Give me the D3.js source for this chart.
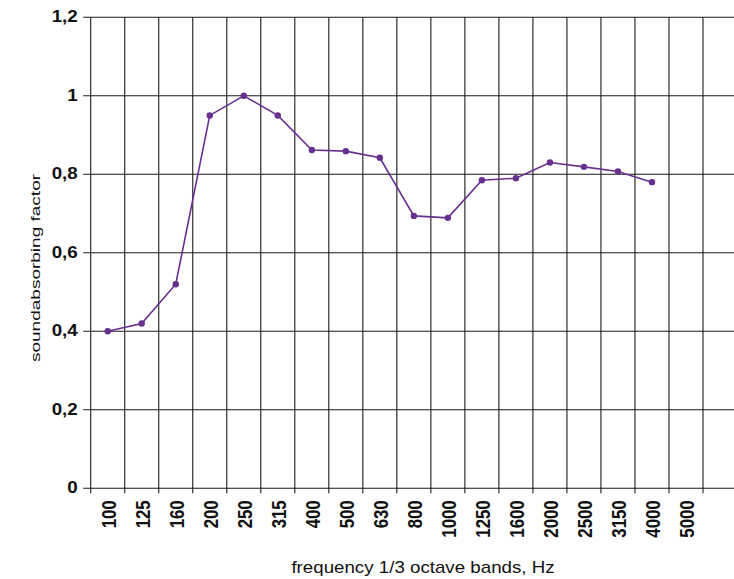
<!DOCTYPE html>
<html>
<head>
<meta charset="utf-8">
<script src="https://cdn.jsdelivr.net/npm/d3@7"></script>
<style>
  html, body { margin: 0; padding: 0; background: #fff; }
  svg { display: block; }
  text { font-family: "Liberation Sans", Arial, Helvetica, sans-serif; fill: #111; }
</style>
</head>
<body>
<svg id="chart" width="734" height="579"></svg>
<script>
// 1/3 octave band centre frequencies (Hz)
const bands = ["100", "125", "160", "200", "250", "315", "400", "500", "630",
               "800", "1000", "1250", "1600", "2000", "2500", "3150", "4000", "5000"];
// Sound absorption coefficient per band (no value measured at 5000 Hz)
const absorption = [0.40, 0.42, 0.52, 0.95, 1.00, 0.95, 0.862, 0.859, 0.842,
                    0.694, 0.689, 0.785, 0.79, 0.83, 0.819, 0.807, 0.78, null];
// Value axis ticks and their labels (decimal comma)
const yTicks = [0, 0.2, 0.4, 0.6, 0.8, 1.0, 1.2];
const yTickLabels = ["0", "0,2", "0,4", "0,6", "0,8", "1", "1,2"];

const xTitle = "frequency 1/3 octave bands, Hz";
const yTitle = "soundabsorbing factor";

const svg = d3.select("#chart");
const W = 734;

const plotLeft = 90.7, plotRight = 703, plotTop = 17.3, plotBottom = 488.3;

const x = d3.scaleBand().domain(bands).range([plotLeft, plotRight]).padding(0);
const y = d3.scaleLinear().domain([0, 1.2]).range([plotBottom, plotTop]);

const grid = svg.append("g");

// horizontal grid lines, running past the last band to the right edge
grid.selectAll("line.h").data(yTicks).join("line")
  .attr("class", "h")
  .attr("x1", plotLeft - 7.5).attr("x2", W)
  .attr("y1", d => y(d)).attr("y2", d => y(d))
  .attr("stroke", "#1b1b1b").attr("stroke-width", 1.1);

// vertical grid lines on every band boundary, extending below the zero line
const edges = bands.map(b => x(b)).concat([x.range()[1]]);
grid.selectAll("line.v").data(edges).join("line")
  .attr("class", "v")
  .attr("x1", d => d).attr("x2", d => d)
  .attr("y1", y(1.2)).attr("y2", y(0) + 5)
  .attr("stroke", "#1b1b1b").attr("stroke-width", 1.1);

// value axis labels (bold, slightly widened)
const yAxis = d3.axisLeft(y).tickValues(yTicks)
  .tickFormat((d, i) => yTickLabels[i]).tickSize(0).tickPadding(0);
const gy = svg.append("g").attr("transform", `translate(${plotLeft - 13},0)`).call(yAxis);
gy.select(".domain").remove();
gy.selectAll(".tick text")
  .attr("x", 0).attr("dy", null).attr("y", 0)
  .attr("text-anchor", "end")
  .style("font-size", "16.3px").style("font-weight", "bold")
  .attr("transform", "translate(0,4.3) scale(1.15,1)");

// band labels, rotated, centred in each band
const xAxis = d3.axisBottom(x).tickSize(0).tickPadding(0);
const gx = svg.append("g").attr("transform", `translate(0,${plotBottom})`).call(xAxis);
gx.select(".domain").remove();
gx.selectAll(".tick text")
  .attr("x", 0).attr("y", 0).attr("dy", null)
  .attr("text-anchor", "end")
  .style("font-size", "16.8px").style("font-weight", "bold")
  .attr("transform", "translate(8.2,12) scale(1.16,1) rotate(-90)");

// measured curve
const pts = bands.map((b, i) => ({ b, v: absorption[i] })).filter(d => d.v != null);
const cx = d => x(d.b) + x.bandwidth() / 2;
const purple = "#67308f";

svg.append("path")
  .datum(pts)
  .attr("fill", "none")
  .attr("stroke", purple)
  .attr("stroke-width", 1.6)
  .attr("d", d3.line().x(cx).y(d => y(d.v)));

svg.selectAll("circle.pt").data(pts).join("circle")
  .attr("class", "pt")
  .attr("cx", cx).attr("cy", d => y(d.v))
  .attr("r", 3.2).attr("fill", purple);

// axis titles
svg.append("text")
  .attr("transform", "translate(423,573) scale(1.17,1)")
  .attr("text-anchor", "middle")
  .style("font-size", "16px")
  .text(xTitle);

svg.append("text")
  .attr("transform", "translate(39.5,268) rotate(-90) scale(1.42,1)")
  .attr("text-anchor", "middle")
  .style("font-size", "13.4px")
  .text(yTitle);
</script>
</body>
</html>
